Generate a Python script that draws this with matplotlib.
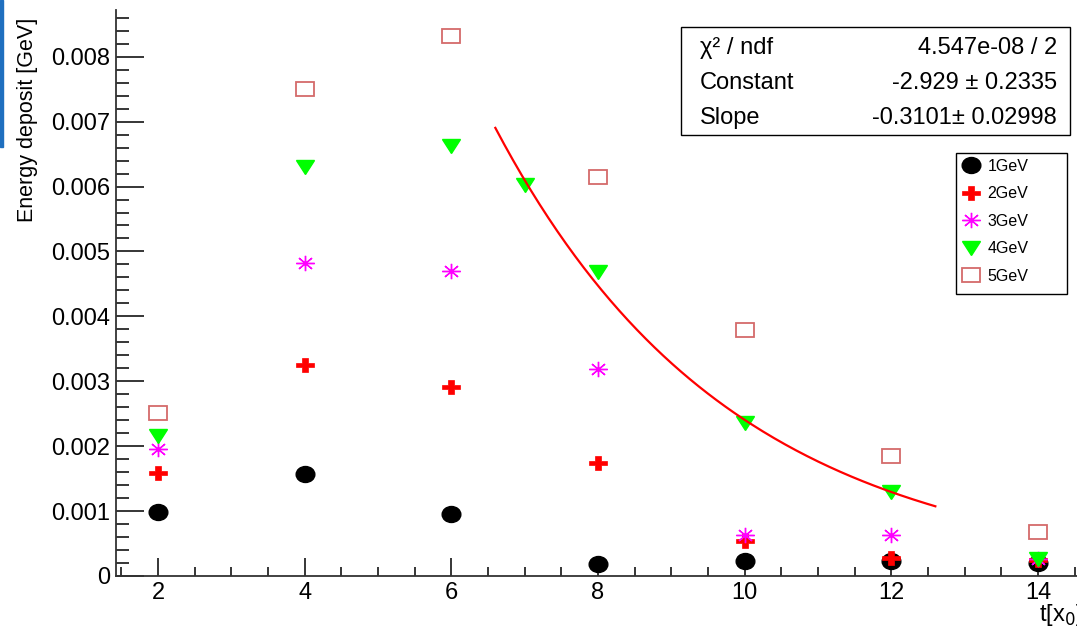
import numpy as np
import matplotlib
matplotlib.use('Agg')
import matplotlib.pyplot as plt
from matplotlib.markers import MarkerStyle
from matplotlib.transforms import Affine2D
from matplotlib.patches import Rectangle
from matplotlib.ticker import MultipleLocator, FuncFormatter

plt.rcParams['font.family'] = ['Liberation Sans', 'DejaVu Sans']

# depth in radiation lengths
depth = [2, 4, 6, 8, 10, 12, 14]
depth_4gev = [2, 4, 6, 7, 8, 10, 12, 14]

# energy deposit [GeV]
e_1gev = [0.00099, 0.00157, 0.00096, 0.00018, 0.00023, 0.00023, 0.00020]
e_2gev = [0.00159, 0.00325, 0.00291, 0.00174, 0.00054, 0.00028, 0.00025]
e_3gev = [0.00196, 0.00482, 0.00470, 0.00319, 0.00063, 0.00063, 0.00026]
e_4gev = [0.00216, 0.00630, 0.00663, 0.00602, 0.00468, 0.00236, 0.00129, 0.00026]
e_5gev = [0.00251, 0.00750, 0.00832, 0.00615, 0.00379, 0.00185, 0.00068]

# exponential fit shown in the stats box
fit_const = -2.929
fit_slope = -0.3101
fit_range = (6.6, 12.6)

W, H = 1077, 627
fig = plt.figure(figsize=(W / 100, H / 100), dpi=100)
ax = fig.add_axes([116 / W, 1 - 576 / H, (1082 - 116) / W, (576 - 10) / H])


def mk(m, sx):
    return MarkerStyle(m, transform=Affine2D().scale(sx, 1.0))


ax.plot(depth, e_1gev, ls='none', marker=mk('o', 1.17), ms=11.5, color='black',
        mec='black', label='1GeV')
ax.plot(depth, e_2gev, ls='none', marker=mk('P', 1.2), ms=10.5, color='#ff0000',
        mec='#ff0000', mew=0.5, label='2GeV')
ax.plot(depth, e_3gev, ls='none', marker=mk((8, 2, 0), 1.2), ms=11, color='#ff00ff',
        mew=1.0, label='3GeV')
ax.plot(depth_4gev, e_4gev, ls='none', marker=mk('v', 1.3), ms=10, color='#00ff00',
        mec='#00ff00', label='4GeV')
ax.plot(depth, e_5gev, ls='none', marker=mk('s', 1.28), ms=10, mfc='none',
        mec='#d46a6a', mew=1.3, label='5GeV')

xf = np.linspace(fit_range[0], fit_range[1], 200)
ax.plot(xf, np.exp(fit_const + fit_slope * xf), color='#ff0000', lw=1.6)

ax.set_xlim(1.427, 14.6)
ax.set_ylim(0, 0.00872)

ax.xaxis.set_major_locator(MultipleLocator(2))
ax.xaxis.set_minor_locator(MultipleLocator(0.5))
ax.yaxis.set_major_locator(MultipleLocator(0.001))
ax.yaxis.set_minor_locator(MultipleLocator(0.0002))
ax.yaxis.set_major_formatter(FuncFormatter(lambda v, p: '0' if abs(v) < 1e-9 else f'{v:.3f}'))

ax.tick_params(axis='both', which='both', direction='in', colors='black',
               top=False, right=False, labelsize=17)
ax.tick_params(axis='y', which='major', length=20, width=1.1, pad=4.5)
ax.tick_params(axis='y', which='minor', length=9.5, width=1.1)
ax.tick_params(axis='x', which='major', length=13, width=1.1, pad=4)
ax.tick_params(axis='x', which='minor', length=6.5, width=1.1)

for side in ['top', 'right']:
    ax.spines[side].set_visible(False)
for side in ['left', 'bottom']:
    ax.spines[side].set_linewidth(1.3)
    ax.spines[side].set_color('#333333')

ax.set_ylabel('Energy deposit [GeV]', fontsize=15.5)
ax.yaxis.set_label_coords(-78 / (1082 - 116), 1 - 110 / 566)
fig.text(1039 / W, 1 - 615 / H, 't[x$_{0}$]', fontsize=17, ha='left', va='center')

# stats box
fig.patches.append(Rectangle((681 / W, 1 - 135 / H), (1070 - 681) / W, (135 - 27) / H,
                             transform=fig.transFigure, fill=True, fc='white',
                             ec='black', lw=1.0, zorder=5))
rows = [('χ² / ndf', '4.547e-08 / 2'),
        ('Constant', '-2.929 ± 0.2335'),
        ('Slope', '-0.3101± 0.02998')]
for i, (name, val) in enumerate(rows):
    y = 1 - (48 + 35 * i) / H
    fig.text(700 / W, y, name, fontsize=17, ha='left', va='center', zorder=6)
    fig.text(1057 / W, y, val, fontsize=17, ha='right', va='center', zorder=6)

# legend: frame drawn separately to keep the wide ROOT box
leg = ax.legend(loc='upper left', bbox_to_anchor=(958 / W, 1 - 154 / H),
                bbox_transform=fig.transFigure, fontsize=11.5, frameon=False,
                handlelength=1.0, handletextpad=0.55, labelspacing=0.78,
                borderpad=0.3, borderaxespad=0)
leg.set_zorder(10)
ax.add_patch(Rectangle((956 / W, 1 - 294 / H), (1067 - 956) / W, (294 - 153) / H,
                       transform=fig.transFigure, fill=True, fc='white',
                       ec='black', lw=1.0, zorder=9, clip_on=False))

# blue strip at the left edge of the original slide
fig.patches.append(Rectangle((0, 1 - 147 / H), 3 / W, 147 / H,
                             transform=fig.transFigure, color='#1f6fbf', zorder=0))

fig.savefig('out.png', dpi=100)
